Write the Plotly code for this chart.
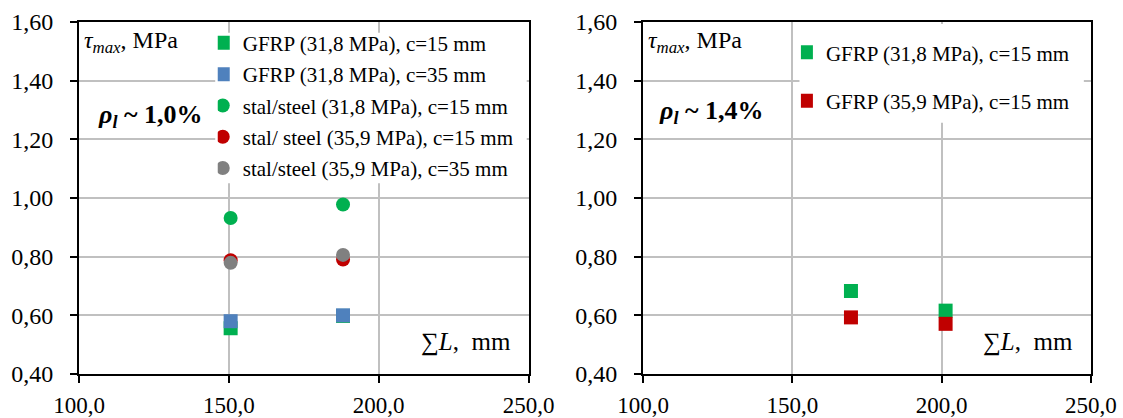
import plotly.graph_objects as go

# ---- data ----
left_names = ["GFRP (31,8 MPa), c=15 mm", "GFRP (31,8 MPa), c=35 mm",
              "stal/steel (31,8 MPa), c=15 mm", "stal/ steel (35,9 MPa), c=15 mm",
              "stal/steel (35,9 MPa), c=35 mm"]
left_x = [[150.6, 188.1], [150.6, 188.1], [150.6, 188.1], [150.6, 188.1], [150.6, 188.1]]
left_y = [[0.556, 0.598], [0.580, 0.600], [0.932, 0.978], [0.788, 0.790], [0.779, 0.806]]
left_symbols = ["square", "square", "circle", "circle", "circle"]
left_colors = ["#00b050", "#4f81bd", "#00b050", "#c00000", "#808080"]

right_names = ["GFRP (31,8 MPa), c=15 mm", "GFRP (35,9 MPa), c=15 mm"]
right_x = [[169.6, 201.3], [169.6, 201.3]]
right_y = [[0.683, 0.616], [0.593, 0.571]]
right_symbols = ["square", "square"]
right_colors = ["#00b050", "#c00000"]

x_ticks = [100, 150, 200, 250]
y_ticks = [0.4, 0.6, 0.8, 1.0, 1.2, 1.4, 1.6]

FONT = "Liberation Serif, Times New Roman, serif"

fig = go.Figure()
for i, n in enumerate(left_names):
    fig.add_trace(go.Scatter(x=left_x[i], y=left_y[i], mode="markers", name=n,
                             legendgroup="L%d" % i, legend="legend",
                             marker=dict(symbol=left_symbols[i], color=left_colors[i], size=14,
                                         line=dict(width=0)),
                             xaxis="x", yaxis="y"))
for i, n in enumerate(right_names):
    fig.add_trace(go.Scatter(x=right_x[i], y=right_y[i], mode="markers", name=n,
                             legendgroup="R%d" % i, legend="legend2",
                             marker=dict(symbol=right_symbols[i], color=right_colors[i], size=14,
                                         line=dict(width=0)),
                             xaxis="x2", yaxis="y2"))

W, H = 1123, 418
ml, mr, mt, mb = 79.3, 32, 22.3, 44
pw = W - ml - mr
ph = H - mt - mb
d1 = [0, (528.7 - ml) / pw]
d2 = [(643.3 - ml) / pw, 1]

axis_common = dict(showline=True, linecolor="black", linewidth=2, mirror=True,
                   ticks="outside", ticklen=7, tickwidth=2, tickcolor="black",
                   showgrid=True, gridcolor="#c0c0c0", gridwidth=1.5, zeroline=False,
                   automargin=False)
xfont = dict(family=FONT, size=23, color="black")
yfont = dict(family=FONT, size=24, color="black")

fig.update_layout(
    template="none",
    width=W, height=H, separators=",.",
    margin=dict(l=ml, r=mr, t=mt, b=mb),
    paper_bgcolor="white", plot_bgcolor="white",
    font=dict(family=FONT, color="black"),
    xaxis=dict(domain=d1, range=[100, 250], tickvals=x_ticks, tickformat=".1f", anchor="y",
               ticklabelstandoff=2, tickfont=xfont, **axis_common),
    yaxis=dict(domain=[0, 1], range=[0.4, 1.6], tickvals=y_ticks, tickformat=".2f", anchor="x",
               ticklabelstandoff=12, tickfont=yfont, **axis_common),
    xaxis2=dict(domain=d2, range=[100, 250], tickvals=x_ticks, tickformat=".1f", anchor="y2",
                ticklabelstandoff=2, tickfont=xfont, **axis_common),
    yaxis2=dict(domain=[0, 1], range=[0.4, 1.6], tickvals=y_ticks, tickformat=".2f", anchor="x2",
                ticklabelstandoff=12, tickfont=yfont, **axis_common),
    legend=dict(x=(218 - ml) / pw, y=1 + (22.3 - 23) / ph, xanchor="left", yanchor="top",
                bgcolor="rgba(0,0,0,0)", borderwidth=0, font=dict(family=FONT, size=21, color="black"),
                tracegroupgap=1, itemwidth=30, indentation=-15),
    legend2=dict(x=(801 - ml) / pw, y=1 + (22.3 - 32.5) / ph, xanchor="left", yanchor="top",
                 bgcolor="rgba(0,0,0,0)", borderwidth=0, font=dict(family=FONT, size=21, color="black"),
                 tracegroupgap=18, itemwidth=30, indentation=-15),
    showlegend=True,
)

# white legend backgrounds hiding the gridlines (no data lies in these regions)
fig.add_shape(type="rect", xref="x domain", yref="y domain", x0=0.303, x1=0.996, y0=0.542, y1=0.9696,
              fillcolor="white", line=dict(width=0), layer="above")
fig.add_shape(type="rect", xref="x2 domain", yref="y2 domain", x0=0.349, x1=0.984, y0=0.714, y1=0.994,
              fillcolor="white", line=dict(width=0), layer="above")

for xr, yr, rho, rx, ry in [("x domain", "y domain", "1,0%", 0.037, 0.734),
                            ("x2 domain", "y2 domain", "1,4%", 0.031, 0.743)]:
    fig.add_annotation(xref=xr, yref=yr, x=0.006, y=0.944, xanchor="left", yanchor="middle",
                       text="<i>τ<sub>max</sub></i>, MPa", showarrow=False,
                       font=dict(family=FONT, size=24, color="black"))
    fig.add_annotation(xref=xr, yref=yr, x=rx, y=ry, xanchor="left", yanchor="middle",
                       text="<b><i>ρ<sub>l</sub></i> ~ " + rho + "</b>", showarrow=False,
                       font=dict(family=FONT, size=26, color="black"))
    fig.add_annotation(xref=xr, yref=yr, x=0.965, y=0.091, xanchor="right", yanchor="middle",
                       text="∑<i>L</i>,  mm", showarrow=False,
                       font=dict(family=FONT, size=25, color="black"))

fig.write_html("out.html", config={"displayModeBar": False},
               post_script="document.body.style.margin='0';document.body.style.padding='0';")
